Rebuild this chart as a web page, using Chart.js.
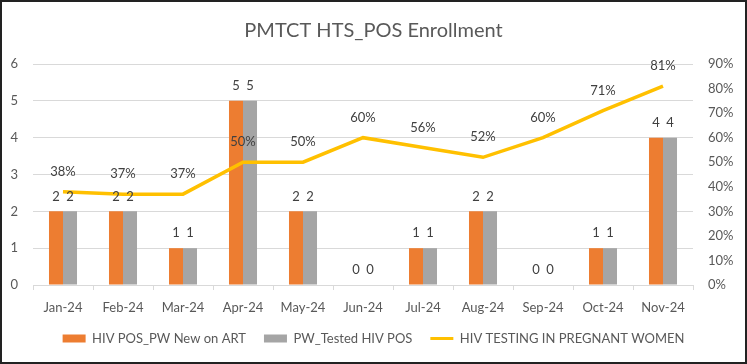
<!DOCTYPE html>
<html>
<head>
<meta charset="utf-8">
<script src="https://cdn.jsdelivr.net/npm/chart.js@4"></script>
<style>
    body { margin: 0; background: #fff; }
    .wrap { width: 747px; height: 364px; box-sizing: border-box; border: 2px solid #222; position: relative; }
</style>
</head>
<body>
<div class="wrap"><canvas class="js-chart"></canvas></div>
<script>
const months = ['Jan-24', 'Feb-24', 'Mar-24', 'Apr-24', 'May-24', 'Jun-24', 'Jul-24', 'Aug-24', 'Sep-24', 'Oct-24', 'Nov-24']
const newOnArt = [2, 2, 1, 5, 2, 0, 1, 2, 0, 1, 4]
const testedPos = [2, 2, 1, 5, 2, 0, 1, 2, 0, 1, 4]
const testingRate = [0.38, 0.37, 0.37, 0.50, 0.50, 0.60, 0.56, 0.52, 0.60, 0.71, 0.81]

const FONT = 'Lato, "Open Sans", sans-serif'
const TEXT = '#595959'

// values over bars and percentages over the line
const valueLabels = {
    id: 'valueLabels',
    afterDatasetsDraw(chart) {
        const ctx = chart.ctx
        ctx.save()
        ctx.font = '13px ' + FONT
        ctx.fillStyle = '#404040'
        ctx.textAlign = 'center'
        ctx.textBaseline = 'middle'
        chart.data.datasets.forEach((ds, i) => {
            const meta = chart.getDatasetMeta(i)
            meta.data.forEach((el, j) => {
                const v = ds.data[j]
                if (ds.type === 'line') {
                    ctx.fillText(Math.round(v * 100) + '%', el.x, el.y - 20)
                } else {
                    ctx.fillText(String(v), el.x, el.y - 15)
                }
            })
        })
        ctx.restore()
    }
}

document.addEventListener('DOMContentLoaded', () => {
    const ctx = document.querySelector('.js-chart')
    new Chart(ctx, {
        data: {
            labels: months,
            datasets: [{
                type: 'bar',
                label: 'HIV POS_PW New on ART',
                data: newOnArt,
                backgroundColor: '#ED7D31',
                yAxisID: 'y',
                order: 1,
                categoryPercentage: 0.467,
                barPercentage: 1
            }, {
                type: 'bar',
                label: 'PW_Tested HIV POS',
                data: testedPos,
                backgroundColor: '#A5A5A5',
                yAxisID: 'y',
                order: 1,
                categoryPercentage: 0.467,
                barPercentage: 1
            }, {
                type: 'line',
                label: 'HIV TESTING IN PREGNANT WOMEN',
                data: testingRate,
                borderColor: '#FFC000',
                backgroundColor: '#FFC000',
                borderWidth: 3.5,
                pointRadius: 0,
                tension: 0,
                yAxisID: 'y1',
                order: 0
            }]
        },
        options: {
            responsive: true,
            maintainAspectRatio: false,
            animation: false,
            layout: { padding: { left: 0, right: 0, top: 4, bottom: 7 } },
            plugins: {
                title: {
                    display: true,
                    text: 'PMTCT HTS_POS Enrollment',
                    color: TEXT,
                    font: { family: FONT, size: 20, weight: 'normal' },
                    padding: { top: 13, bottom: 21 }
                },
                legend: {
                    position: 'bottom',
                    labels: {
                        color: TEXT,
                        font: { family: FONT, size: 13 },
                        usePointStyle: true,
                        pointStyleWidth: 23,
                        boxHeight: 8,
                        padding: 18,
                        sort: (a, b) => a.datasetIndex - b.datasetIndex,
                        generateLabels(chart) {
                            const items = Chart.defaults.plugins.legend.labels.generateLabels(chart)
                            items.forEach(item => {
                                if (chart.data.datasets[item.datasetIndex].type === 'line') {
                                    item.pointStyle = 'line'
                                    item.lineWidth = 3
                                } else {
                                    item.pointStyle = 'rect'
                                    item.lineWidth = 0
                                }
                            })
                            return items
                        }
                    }
                },
                tooltip: { enabled: false }
            },
            scales: {
                x: {
                    grid: {
                        display: true,
                        drawOnChartArea: false,
                        drawTicks: true,
                        tickLength: 5,
                        color: '#D9D9D9'
                    },
                    border: { color: '#D9D9D9' },
                    ticks: { color: TEXT, font: { family: FONT, size: 13 }, padding: 10 },
                    afterFit: s => { s.height = 29 }
                },
                y: {
                    position: 'left',
                    min: 0,
                    max: 6,
                    ticks: { stepSize: 1, color: TEXT, font: { family: FONT, size: 13 }, padding: 15 },
                    grid: { color: '#D9D9D9', drawTicks: false },
                    border: { display: false },
                    afterFit: s => { s.width = 31 }
                },
                y1: {
                    position: 'right',
                    min: 0,
                    max: 0.9,
                    ticks: {
                        stepSize: 0.1,
                        color: TEXT,
                        font: { family: FONT, size: 13 },
                        padding: 15,
                        callback: v => Math.round(v * 100) + '%'
                    },
                    grid: { display: false, drawTicks: false },
                    border: { display: false },
                    afterFit: s => { s.width = 52 }
                }
            }
        },
        plugins: [valueLabels]
    })
})
</script>
</body>
</html>
